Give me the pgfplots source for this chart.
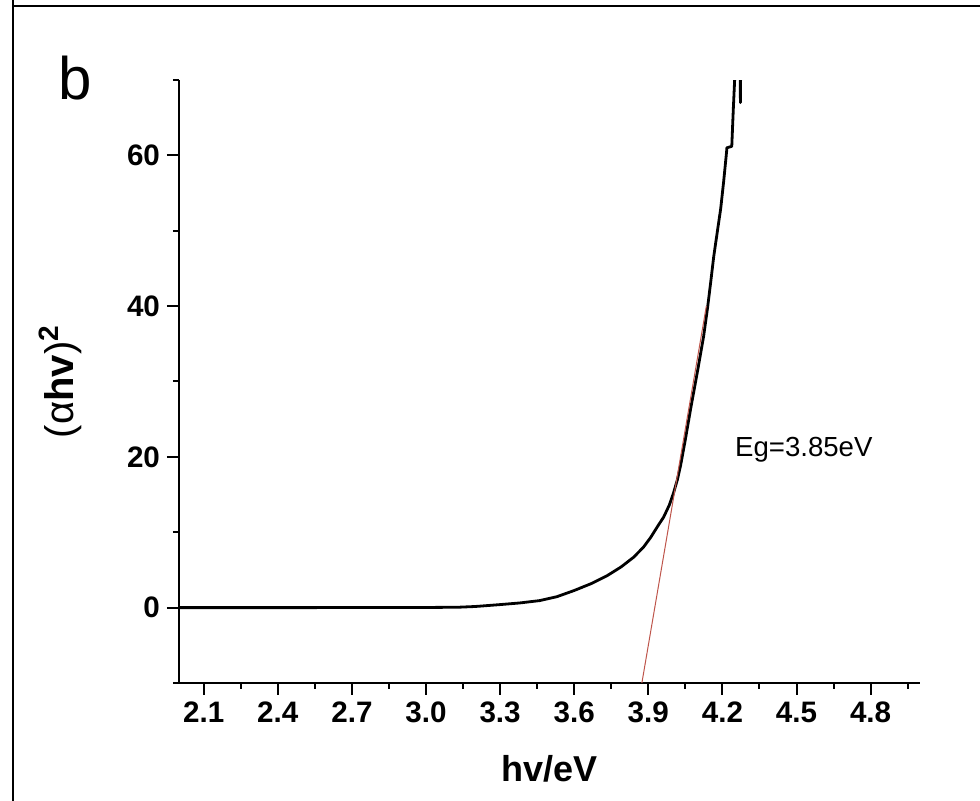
\documentclass[border=0pt]{standalone}
\usepackage{pgfplots}
\pgfplotsset{compat=1.18}
\usepackage{fontspec}
\setmainfont{Liberation Sans}

\definecolor{fitred}{RGB}{190,85,75}

\begin{document}
\begin{tikzpicture}[x=1pt,y=1pt]
\useasboundingbox (0,0) rectangle (490,400.5);
% panel frame (top and left edges)
\draw[line width=1pt] (6,397.5) -- (490,397.5);
\draw[line width=1pt] (6.5,0) -- (6.5,400.5);
\node[anchor=base west, inner sep=0pt, font=\fontsize{30}{36}\selectfont] at (29,350.5) {b};

\begin{axis}[
at={(89.5pt,59pt)}, anchor=south west,
scale only axis, width=370.5pt, height=301.5pt,
axis lines=left,
axis line style={-, line width=1.2pt},
every tick/.style={black, line width=1pt},
tick align=outside,
major tick length=6pt, minor tick length=3pt,
xmin=2.0, xmax=5.0, ymin=-10, ymax=70,
xtick={2.1,2.4,2.7,3.0,3.3,3.6,3.9,4.2,4.5,4.8},
minor xtick={2.25,2.55,2.85,3.15,3.45,3.75,4.05,4.35,4.65,4.95},
ytick={0,20,40,60},
minor ytick={-10,10,30,50,70},
xticklabel style={/pgf/number format/.cd, fixed, fixed zerofill, precision=1},
ticklabel style={font=\bfseries\fontsize{14.8}{17}\selectfont},
/pgf/number format/assume math mode=true,
xlabel={\textbf{hv/eV}},
xlabel style={font=\fontsize{18}{22}\selectfont, at={(axis description cs:0.5,0)}, anchor=base, yshift=-49.5pt},
ylabel={(α\textbf{hv})\textsuperscript{\textbf{2}}},
ylabel style={font=\fontsize{20}{24}\selectfont, at={(axis description cs:-0.16,0.5)}, anchor=center},
]
\addplot [black, line width=1.4pt, line join=round] table {%
2.00 0
2.50 0
3.00 0.02
3.13 0.05
3.20 0.15
3.30 0.40
3.38 0.62
3.46 0.93
3.53 1.45
3.60 2.27
3.67 3.20
3.735 4.27
3.79 5.40
3.84 6.67
3.88 8.0
3.91 9.33
3.94 10.9
3.962 12.0
3.985 13.6
4.002 15.2
4.018 17.0
4.031 18.9
4.05 22.3
4.071 26.3
4.10 31.5
4.124 36.0
4.14 39.8
4.152 43.0
4.165 46.6
4.18 50.0
4.193 52.9
4.205 56.5
4.217 60.5
4.218 61.0
4.238 61.2
4.244 66.0
4.250 70.3
4.253 80
4.270 80
4.273 67
4.276 80
};
\addplot [fitred, line width=0.5pt] coordinates {(3.874,-10) (4.135,40)};
\node[anchor=base west, inner sep=0pt, font=\fontsize{13.8}{16}\selectfont] at (axis cs:4.25,20) {Eg=3.85eV};
\end{axis}
\end{tikzpicture}
\end{document}
